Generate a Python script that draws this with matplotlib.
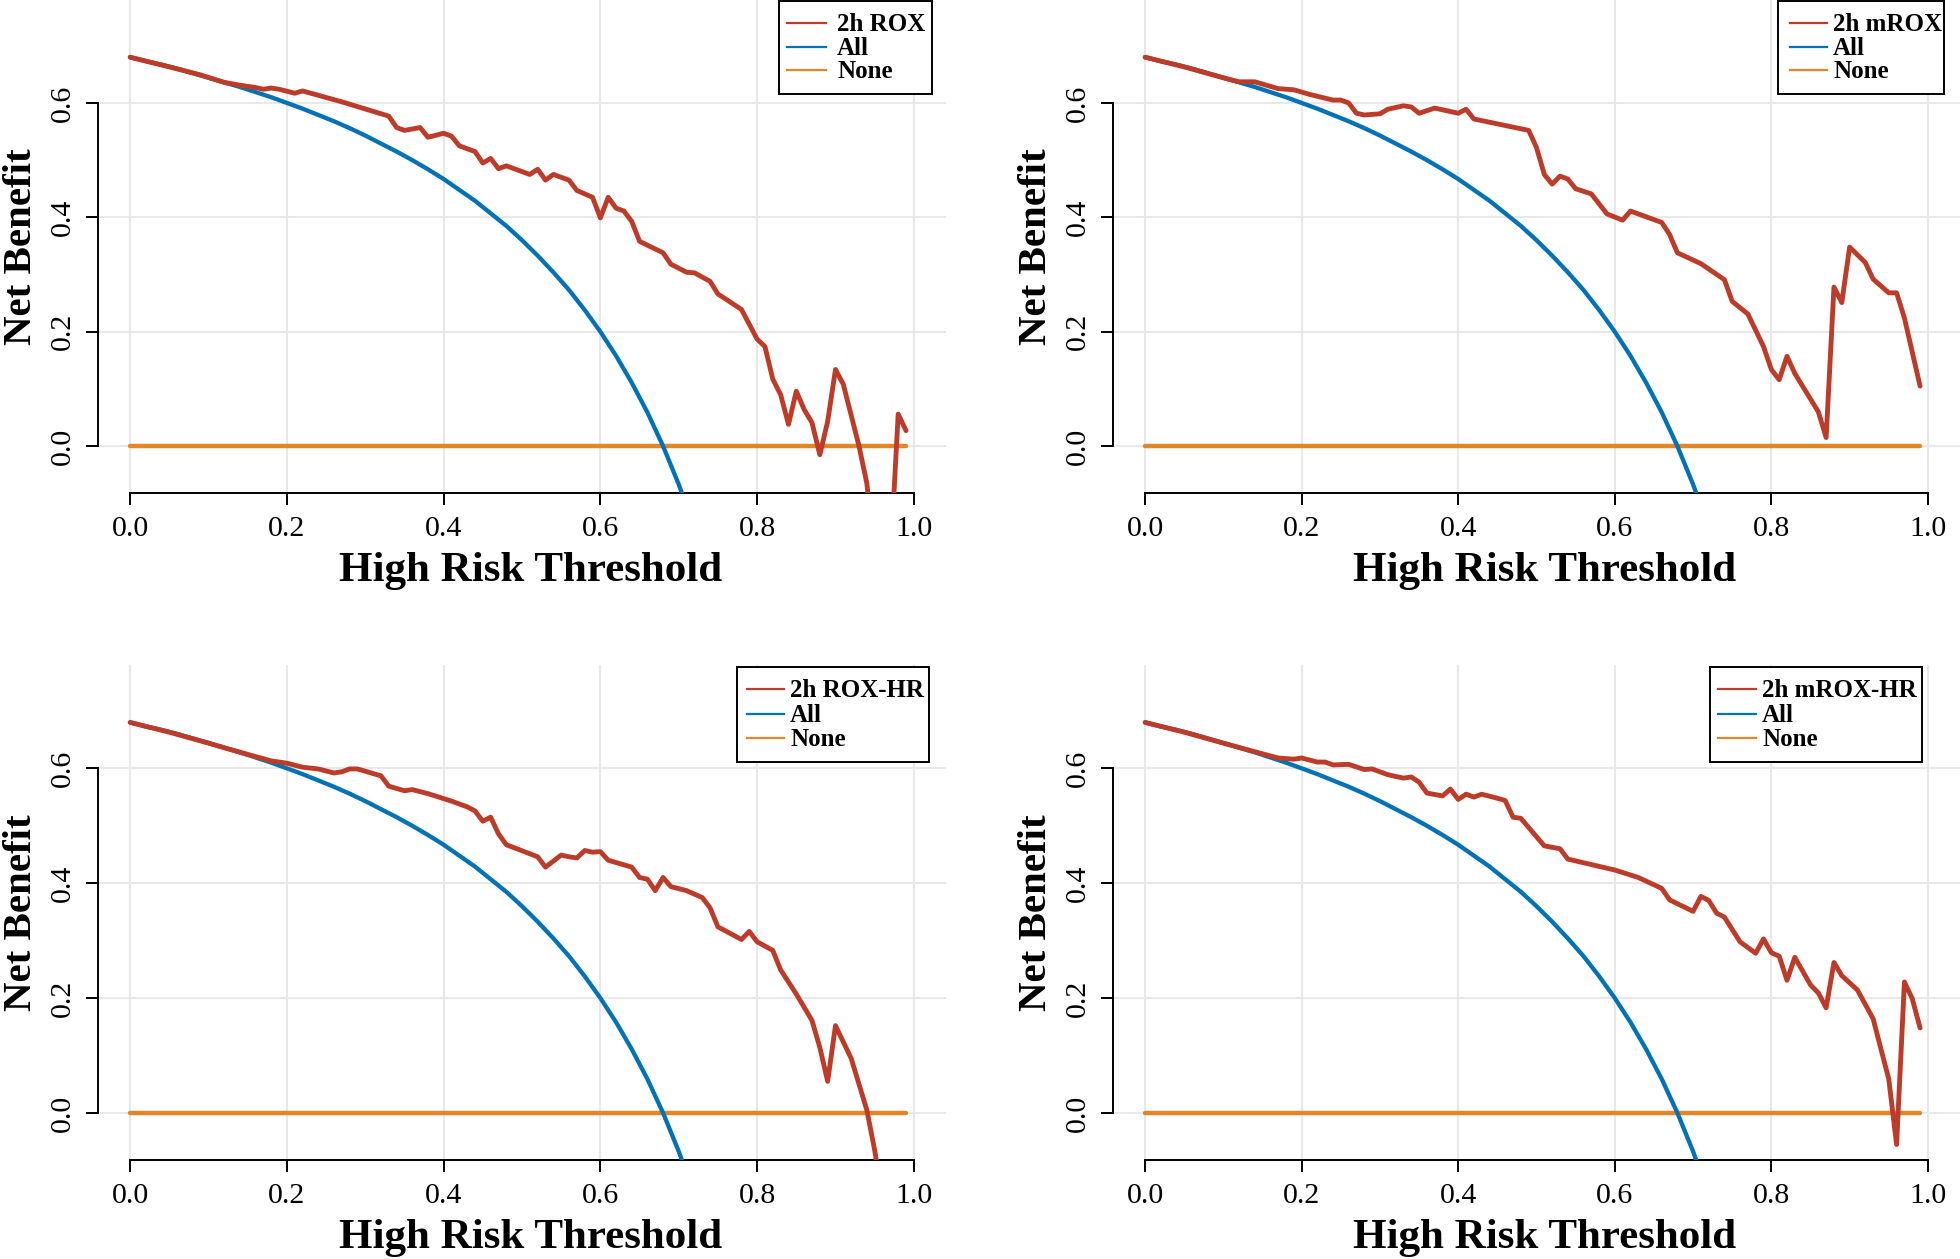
import matplotlib
matplotlib.use('Agg')
import matplotlib.pyplot as plt
from matplotlib.lines import Line2D
from matplotlib.patches import Rectangle

plt.rcParams['font.family'] = ['Liberation Serif', 'DejaVu Serif']

# ---------------- data ----------------
x_ticks = [0.0, 0.2, 0.4, 0.6, 0.8, 1.0]
y_ticks = [0.0, 0.2, 0.4, 0.6]
x_ticklabels = ['0.0', '0.2', '0.4', '0.6', '0.8', '1.0']
y_ticklabels = ['0.0', '0.2', '0.4', '0.6']

# "All" strategy (treat all)
all_t = [0.00, 0.02, 0.04, 0.06, 0.08, 0.10, 0.12, 0.14, 0.16, 0.18, 0.20, 0.22, 0.24,
         0.26, 0.28, 0.30, 0.32, 0.34, 0.36, 0.38, 0.40, 0.42, 0.44, 0.46, 0.48, 0.50,
         0.52, 0.54, 0.56, 0.58, 0.60, 0.62, 0.64, 0.66, 0.68, 0.70, 0.72]
all_nb = [0.680, 0.673, 0.667, 0.660, 0.652, 0.644, 0.636, 0.628, 0.619, 0.610, 0.600,
          0.590, 0.579, 0.568, 0.556, 0.543, 0.529, 0.515, 0.500, 0.484, 0.467, 0.448,
          0.429, 0.407, 0.385, 0.360, 0.333, 0.304, 0.273, 0.238, 0.200, 0.158, 0.111,
          0.059, 0.000, -0.067, -0.143]

# "None" strategy
none_t = [0.00, 0.99]
none_nb = [0.0, 0.0]

# 2h ROX
rox_t = [0.00, 0.05, 0.09, 0.12, 0.14, 0.16, 0.17, 0.18, 0.19, 0.21, 0.22, 0.27, 0.33, 0.34,
         0.35, 0.37, 0.38, 0.40, 0.41, 0.42, 0.44, 0.45, 0.46, 0.47, 0.48, 0.51, 0.52, 0.53,
         0.54, 0.56, 0.57, 0.59, 0.60, 0.61, 0.62, 0.63, 0.64, 0.65, 0.68, 0.69, 0.71, 0.72,
         0.74, 0.75, 0.78, 0.80, 0.81, 0.82, 0.83, 0.84, 0.85, 0.86, 0.87, 0.88, 0.89, 0.90,
         0.91, 0.93, 0.94, 0.95, 0.96, 0.97, 0.98, 0.99]
rox_nb = [0.680, 0.663, 0.649, 0.636, 0.631, 0.627, 0.624, 0.626, 0.624, 0.617, 0.621, 0.602,
          0.577, 0.557, 0.552, 0.557, 0.540, 0.547, 0.542, 0.525, 0.515, 0.495, 0.503, 0.485,
          0.490, 0.475, 0.484, 0.465, 0.475, 0.465, 0.447, 0.435, 0.399, 0.435, 0.416, 0.411,
          0.393, 0.358, 0.338, 0.318, 0.304, 0.303, 0.288, 0.266, 0.239, 0.187, 0.174, 0.117,
          0.090, 0.038, 0.096, 0.064, 0.041, -0.015, 0.043, 0.134, 0.108, 0.000, -0.065,
          -0.200, -0.300, -0.200, 0.056, 0.027]

# 2h mROX
mrox_t = [0.00, 0.05, 0.10, 0.12, 0.14, 0.17, 0.19, 0.21, 0.24, 0.25, 0.26, 0.27, 0.28, 0.30,
          0.31, 0.33, 0.34, 0.35, 0.37, 0.40, 0.41, 0.42, 0.49, 0.50, 0.51, 0.52, 0.53, 0.54,
          0.55, 0.57, 0.59, 0.61, 0.62, 0.66, 0.67, 0.68, 0.71, 0.74, 0.75, 0.77, 0.79, 0.80,
          0.81, 0.82, 0.83, 0.86, 0.87, 0.88, 0.89, 0.90, 0.92, 0.93, 0.95, 0.96, 0.97, 0.99]
mrox_nb = [0.680, 0.663, 0.644, 0.637, 0.637, 0.625, 0.623, 0.615, 0.605, 0.605, 0.600, 0.582,
           0.579, 0.581, 0.589, 0.595, 0.593, 0.582, 0.591, 0.582, 0.589, 0.572, 0.552, 0.522,
           0.475, 0.458, 0.472, 0.467, 0.450, 0.441, 0.406, 0.395, 0.411, 0.391, 0.370, 0.338,
           0.319, 0.291, 0.253, 0.231, 0.174, 0.134, 0.116, 0.157, 0.127, 0.060, 0.015, 0.278,
           0.251, 0.348, 0.321, 0.292, 0.268, 0.268, 0.224, 0.105]

# 2h ROX-HR
roxhr_t = [0.00, 0.05, 0.10, 0.13, 0.18, 0.20, 0.22, 0.24, 0.26, 0.27, 0.28, 0.29, 0.32, 0.33,
           0.35, 0.36, 0.38, 0.41, 0.43, 0.44, 0.45, 0.46, 0.47, 0.48, 0.52, 0.53, 0.55, 0.56,
           0.57, 0.58, 0.59, 0.60, 0.61, 0.64, 0.65, 0.66, 0.67, 0.68, 0.69, 0.71, 0.73, 0.74,
           0.75, 0.78, 0.79, 0.80, 0.82, 0.83, 0.85, 0.87, 0.88, 0.89, 0.90, 0.92, 0.94, 0.95,
           0.96]
roxhr_nb = [0.680, 0.663, 0.644, 0.632, 0.613, 0.609, 0.602, 0.599, 0.592, 0.594, 0.599, 0.599,
            0.587, 0.569, 0.561, 0.563, 0.556, 0.543, 0.533, 0.526, 0.508, 0.515, 0.486, 0.467,
            0.446, 0.428, 0.449, 0.446, 0.444, 0.457, 0.454, 0.455, 0.440, 0.428, 0.410, 0.407,
            0.387, 0.410, 0.394, 0.387, 0.375, 0.357, 0.324, 0.302, 0.316, 0.298, 0.283, 0.249,
            0.207, 0.161, 0.114, 0.055, 0.152, 0.095, 0.005, -0.065, -0.150]

# 2h mROX-HR
mroxhr_t = [0.00, 0.05, 0.10, 0.14, 0.17, 0.19, 0.20, 0.22, 0.23, 0.24, 0.26, 0.28, 0.29, 0.31,
            0.33, 0.34, 0.35, 0.36, 0.38, 0.39, 0.40, 0.41, 0.42, 0.43, 0.45, 0.46, 0.47, 0.48,
            0.51, 0.53, 0.54, 0.60, 0.63, 0.66, 0.67, 0.70, 0.71, 0.72, 0.73, 0.74, 0.76, 0.78,
            0.79, 0.80, 0.81, 0.82, 0.83, 0.85, 0.86, 0.87, 0.88, 0.89, 0.91, 0.93, 0.95, 0.96,
            0.97, 0.98, 0.99]
mroxhr_nb = [0.680, 0.663, 0.644, 0.629, 0.618, 0.616, 0.618, 0.611, 0.611, 0.606, 0.607, 0.598,
             0.599, 0.589, 0.583, 0.585, 0.576, 0.557, 0.552, 0.564, 0.546, 0.555, 0.550, 0.555,
             0.548, 0.544, 0.515, 0.513, 0.465, 0.460, 0.442, 0.423, 0.410, 0.391, 0.371, 0.351,
             0.377, 0.370, 0.348, 0.341, 0.298, 0.278, 0.303, 0.279, 0.273, 0.231, 0.271, 0.223,
             0.209, 0.183, 0.262, 0.239, 0.214, 0.164, 0.059, -0.055, 0.228, 0.199, 0.148]

model_names = ['2h ROX', '2h mROX', '2h ROX-HR', '2h mROX-HR']
model_t = [rox_t, mrox_t, roxhr_t, mroxhr_t]
model_nb = [rox_nb, mrox_nb, roxhr_nb, mroxhr_nb]
legend_labels = ['All', 'None']

RED, BLUE, ORANGE = '#BC3C29', '#0072B5', '#E18727'

# ---------------- layout (pixels) ----------------
W, H = 1960, 1259
fig = plt.figure(figsize=(W / 100, H / 100), dpi=100)


def fx(px):
    return px / W


def fy(py):
    return 1 - py / H


# axes rectangles: (left, top, right, bottom) in pixels
ax_rects = [(98, 0, 946, 493), (1113, 0, 1960, 493),
            (98, 665, 946, 1160), (1113, 665, 1960, 1160)]
# legend boxes: (left, top, right, bottom), line x0, x1, text x, row ys
leg_specs = [((779, 1, 932, 94), 787, 826, 837, [23, 47, 70]),
             ((1778, 1, 1944, 94), 1790, 1827, 1833, [23, 47, 70]),
             ((737, 667, 929, 762), 747, 784, 790, [689, 714, 738]),
             ((1710, 667, 1922, 762), 1718, 1756, 1762, [689, 714, 738])]

for i in range(4):
    l, t, r, b = ax_rects[i]
    ax = fig.add_axes([fx(l), fy(b), (r - l) / W, (b - t) / H])
    ax.set_xlim(-0.041, 1.041)
    ax.set_ylim(-0.082, 0.78)
    ax.set_axisbelow(True)
    ax.grid(True, color='#E8E8E8', lw=1.5)

    ax.plot(none_t, none_nb, color=ORANGE, lw=3.2, solid_capstyle='round', zorder=3)
    ax.plot(all_t, all_nb, color=BLUE, lw=3.1, solid_capstyle='round',
            solid_joinstyle='round', zorder=4)
    ax.plot(model_t[i], model_nb[i], color=RED, lw=3.5, solid_capstyle='round',
            solid_joinstyle='round', zorder=5)

    for s in ['top', 'right']:
        ax.spines[s].set_visible(False)
    ax.spines['left'].set_bounds(0, 0.6)
    ax.spines['bottom'].set_bounds(0, 1.0)
    for s in ['left', 'bottom']:
        ax.spines[s].set_linewidth(1.4)

    ax.set_xticks(x_ticks)
    ax.set_xticklabels(x_ticklabels)
    ax.set_yticks(y_ticks)
    ax.set_yticklabels(y_ticklabels, rotation=90, va='center')
    ax.tick_params(axis='both', direction='out', length=8.6, width=1.4, labelsize=21.5)
    ax.tick_params(axis='x', pad=8)
    ax.tick_params(axis='y', pad=7)

    ax.set_xlabel('High Risk Threshold', fontsize=31, fontweight='bold', va='baseline')
    ax.xaxis.set_label_coords(0.51, -0.1785)
    ax.set_ylabel('Net Benefit', fontsize=29.5, fontweight='bold', rotation=90,
                  rotation_mode='anchor', ha='center', va='baseline')
    ax.yaxis.set_label_coords(-0.079, 0.5)

    # legend box
    (bl, bt, br, bb), lx0, lx1, tx, rows = leg_specs[i]
    fig.add_artist(Rectangle((fx(bl), fy(bb)), (br - bl) / W, (bb - bt) / H,
                             transform=fig.transFigure, facecolor='white',
                             edgecolor='black', lw=1.4, zorder=10))
    labels = [model_names[i]] + legend_labels
    colors = [RED, BLUE, ORANGE]
    for lab, c, ry in zip(labels, colors, rows):
        fig.add_artist(Line2D([fx(lx0), fx(lx1)], [fy(ry), fy(ry)], color=c, lw=1.6,
                              transform=fig.transFigure, zorder=11))
        fig.text(fx(tx), fy(ry + 8), lab, fontsize=18, fontweight='bold',
                 ha='left', va='baseline', zorder=11)

fig.savefig('out.png', dpi=100)
